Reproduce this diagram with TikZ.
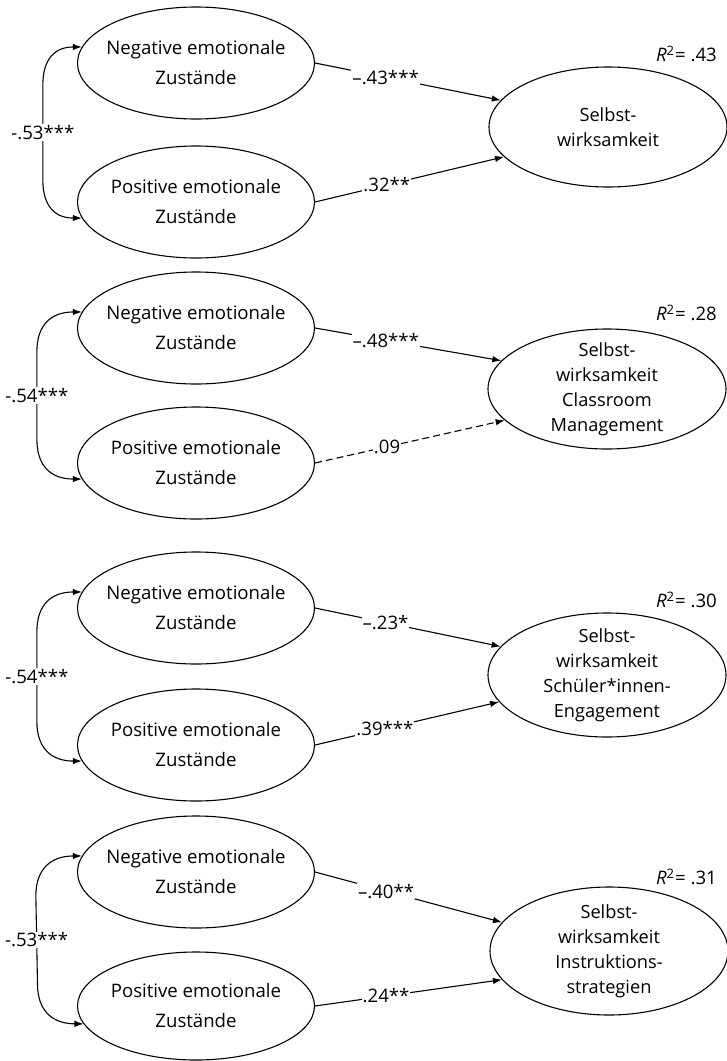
\documentclass[tikz,border=0pt]{standalone}
\usepackage{fontspec}
\setmainfont{Open Sans}
\usetikzlibrary{arrows.meta,shapes.geometric,calc}

\begin{document}
\begin{tikzpicture}[x=1pt,y=-1pt,
  every node/.style={font=\fontsize{18.6}{30}\selectfont},
  latent/.style={ellipse, draw, line width=1.1pt, inner sep=0pt,
    minimum width=237pt, minimum height=112pt},
  ltext/.style={align=center, inner sep=0pt},
  otext/.style={align=center, inner sep=0pt,
    font=\fontsize{18.2}{25}\selectfont},
  outcome/.style={latent, minimum width=238pt},
  effect/.style={line width=1.1pt, -{Latex[length=9pt,width=6.5pt]}},
  coef/.style={fill=white, inner sep=1pt, pos=0.38},
  corr/.style={line width=1.1pt,
    {Latex[length=9pt,width=6.5pt]}-{Latex[length=9pt,width=6.5pt]}},
  corrlab/.style={fill=white, inner sep=1pt, midway},
  rsq/.style={anchor=east, inner sep=0pt},
]
\useasboundingbox (0,0) rectangle (727,1061);

% ---- Model 1: general self-efficacy
\node[latent, label={[ltext]center:Negative emotionale\\Zustände}] (n1) at (196,63) {};
\node[latent, label={[ltext]center:Positive emotionale\\Zustände}] (p1) at (196,202) {};
\node[outcome, minimum height=120pt, label={[otext]center:Selbst-\\wirksamkeit}] (t1) at (608,127) {};
\node[rsq] (r1) at (717,54) {\textit{R}\textsuperscript{2}\kern0.5pt= .43};
\draw[effect] (n1.east) -- node[coef]{–.43***} (t1.166);
\draw[effect] (p1.east) -- node[coef]{.32**} (t1.196);
\path (n1.172) ++(-39,38) coordinate (u1) (p1.188) ++(-39,-38) coordinate (v1);
\draw[corr] (n1.172) .. controls ($(n1.172)+(-27,0)$) and ($(u1)+(0,-26)$) .. (u1)
  -- node[corrlab]{-.53***} (v1)
  .. controls ($(v1)+(0,26)$) and ($(p1.188)+(-27,0)$) .. (p1.188);

% ---- Model 2: classroom management
\node[latent, label={[ltext]center:Negative emotionale\\Zustände}] (n2) at (196,328) {};
\node[latent, label={[ltext]center:Positive emotionale\\Zustände}] (p2) at (196,463) {};
\node[outcome, minimum height=120pt, label={[otext]center:Selbst-\\wirksamkeit\\Classroom\\Management}] (t2) at (607,389) {};
\node[rsq] (r2) at (717,313) {\textit{R}\textsuperscript{2}\kern0.5pt= .28};
\draw[effect] (n2.east) -- node[coef]{–.48***} (t2.165);
\draw[effect, dash pattern=on 7pt off 4pt] (p2.east) -- node[coef]{.09} (t2.197);
\path (n2.172) ++(-45,40) coordinate (u2) (p2.188) ++(-45,-40) coordinate (v2);
\draw[corr] (n2.172) .. controls ($(n2.172)+(-30,0)$) and ($(u2)+(0,-28)$) .. (u2)
  -- node[corrlab]{-.54***} (v2)
  .. controls ($(v2)+(0,28)$) and ($(p2.188)+(-30,0)$) .. (p2.188);

% ---- Model 3: student engagement
\node[latent, label={[ltext]center:Negative emotionale\\Zustände}] (n3) at (196,608) {};
\node[latent, label={[ltext]center:Positive emotionale\\Zustände}] (p3) at (196,745) {};
\node[outcome, minimum height=124pt, label={[otext]center:Selbst-\\wirksamkeit\\Schüler*innen-\\Engagement}] (t3) at (607,675) {};
\node[rsq] (r3) at (717,600) {\textit{R}\textsuperscript{2}\kern0.5pt= .30};
\draw[effect] (n3.east) -- node[coef]{–.23*} (t3.165);
\draw[effect] (p3.east) -- node[coef]{.39***} (t3.194);
\path (n3.172) ++(-45,40) coordinate (u3) (p3.188) ++(-45,-40) coordinate (v3);
\draw[corr] (n3.172) .. controls ($(n3.172)+(-30,0)$) and ($(u3)+(0,-28)$) .. (u3)
  -- node[corrlab]{-.54***} (v3)
  .. controls ($(v3)+(0,28)$) and ($(p3.188)+(-30,0)$) .. (p3.188);

% ---- Model 4: instructional strategies
\node[latent, label={[ltext]center:Negative emotionale\\Zustände}] (n4) at (196,872) {};
\node[latent, minimum height=108pt, label={[ltext]center:Positive emotionale\\Zustände}] (p4) at (196,1006) {};
\node[outcome, minimum height=128pt, label={[otext]center:Selbst-\\wirksamkeit\\Instruktions-\\strategien}] (t4) at (609,951) {};
\node[rsq] (r4) at (717,877) {\textit{R}\textsuperscript{2}\kern0.5pt= .31};
\draw[effect] (n4.east) -- node[coef]{–.40**} (t4.165);
\draw[effect] (p4.east) -- node[coef]{.24**} (t4.195);
\path (n4.172) ++(-46,40) coordinate (u4) (p4.189) ++(-46,-40) coordinate (v4);
\draw[corr] (n4.172) .. controls ($(n4.172)+(-30,0)$) and ($(u4)+(0,-28)$) .. (u4)
  -- node[corrlab]{-.53***} (v4)
  .. controls ($(v4)+(0,28)$) and ($(p4.189)+(-30,0)$) .. (p4.189);
\end{tikzpicture}
\end{document}
